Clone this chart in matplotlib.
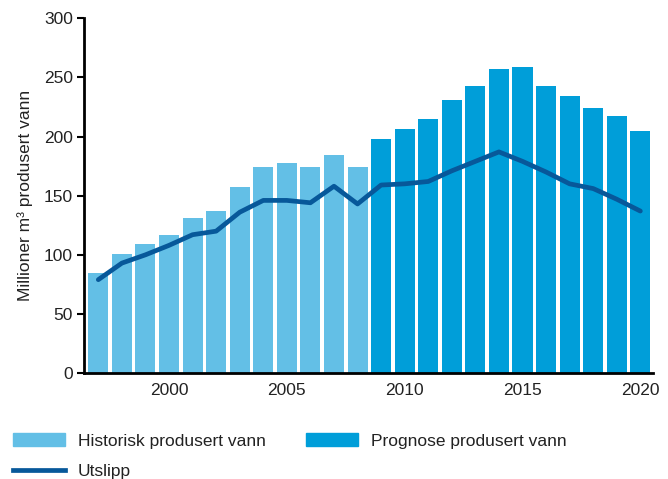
import numpy as np
import matplotlib
matplotlib.use("Agg")
import matplotlib.pyplot as plt
from matplotlib.patches import Patch
from matplotlib.lines import Line2D

plt.rcParams['font.family'] = ['Liberation Sans', 'DejaVu Sans']

# data
years_hist = [1997, 1998, 1999, 2000, 2001, 2002, 2003, 2004, 2005, 2006, 2007, 2008]
vann_hist = [85, 101, 109, 117, 131, 137, 157, 174, 178, 174, 184, 174]
years_prog = [2009, 2010, 2011, 2012, 2013, 2014, 2015, 2016, 2017, 2018, 2019, 2020]
vann_prog = [198, 206, 215, 231, 243, 257, 259, 243, 234, 224, 217, 205]
years_utslipp = list(range(1997, 2021))
utslipp = [79, 93, 100, 108, 117, 120, 136, 146, 146, 144, 158, 143,
           159, 160, 162, 171, 179, 187, 179, 170, 160, 156, 147, 137]

c_hist = '#63bfe6'
c_prog = '#009ed9'
c_line = '#07589a'
fs = 12.5

fig = plt.figure(figsize=(6.68, 4.79), dpi=100)
ax = fig.add_axes([0.126, 0.221, 0.852, 0.741])

ax.bar(years_hist, vann_hist, width=0.85, color=c_hist, zorder=2)
ax.bar(years_prog, vann_prog, width=0.85, color=c_prog, zorder=2)
ax.plot(years_utslipp, utslipp, color=c_line, lw=3.4, zorder=3,
        solid_capstyle='round', solid_joinstyle='round')

ax.set_xlim(1996.4, 2020.55)
ax.set_ylim(0, 300)
ax.set_yticks(np.arange(0, 301, 50))
ax.set_xticks([2000, 2005, 2010, 2015, 2020])
ax.tick_params(axis='y', length=5, width=1.5, labelsize=fs, pad=3, direction='out',
               labelcolor='#222222')
ax.tick_params(axis='x', length=0, labelsize=fs, pad=7, labelcolor='#222222')
for s in ['top', 'right']:
    ax.spines[s].set_visible(False)
for s in ['left', 'bottom']:
    ax.spines[s].set_linewidth(2)
    ax.spines[s].set_color('black')
ax.set_ylabel('Millioner m³ produsert vann', fontsize=fs, labelpad=8, color='#222222')

handles = [Patch(color=c_hist), Line2D([0], [0], color=c_line, lw=3.4), Patch(color=c_prog)]
labels = ['Historisk produsert vann', 'Utslipp', 'Prognose produsert vann']
leg = fig.legend(handles, labels, ncol=2, loc='upper left', bbox_to_anchor=(0.019, 0.096),
                 frameon=False, fontsize=fs, handlelength=3.0, handleheight=0.8,
                 columnspacing=2.3, handletextpad=0.75, labelspacing=0.85,
                 borderaxespad=0, borderpad=0)
for t in leg.get_texts():
    t.set_color('#222222')

fig.savefig('out.png', dpi=100)
